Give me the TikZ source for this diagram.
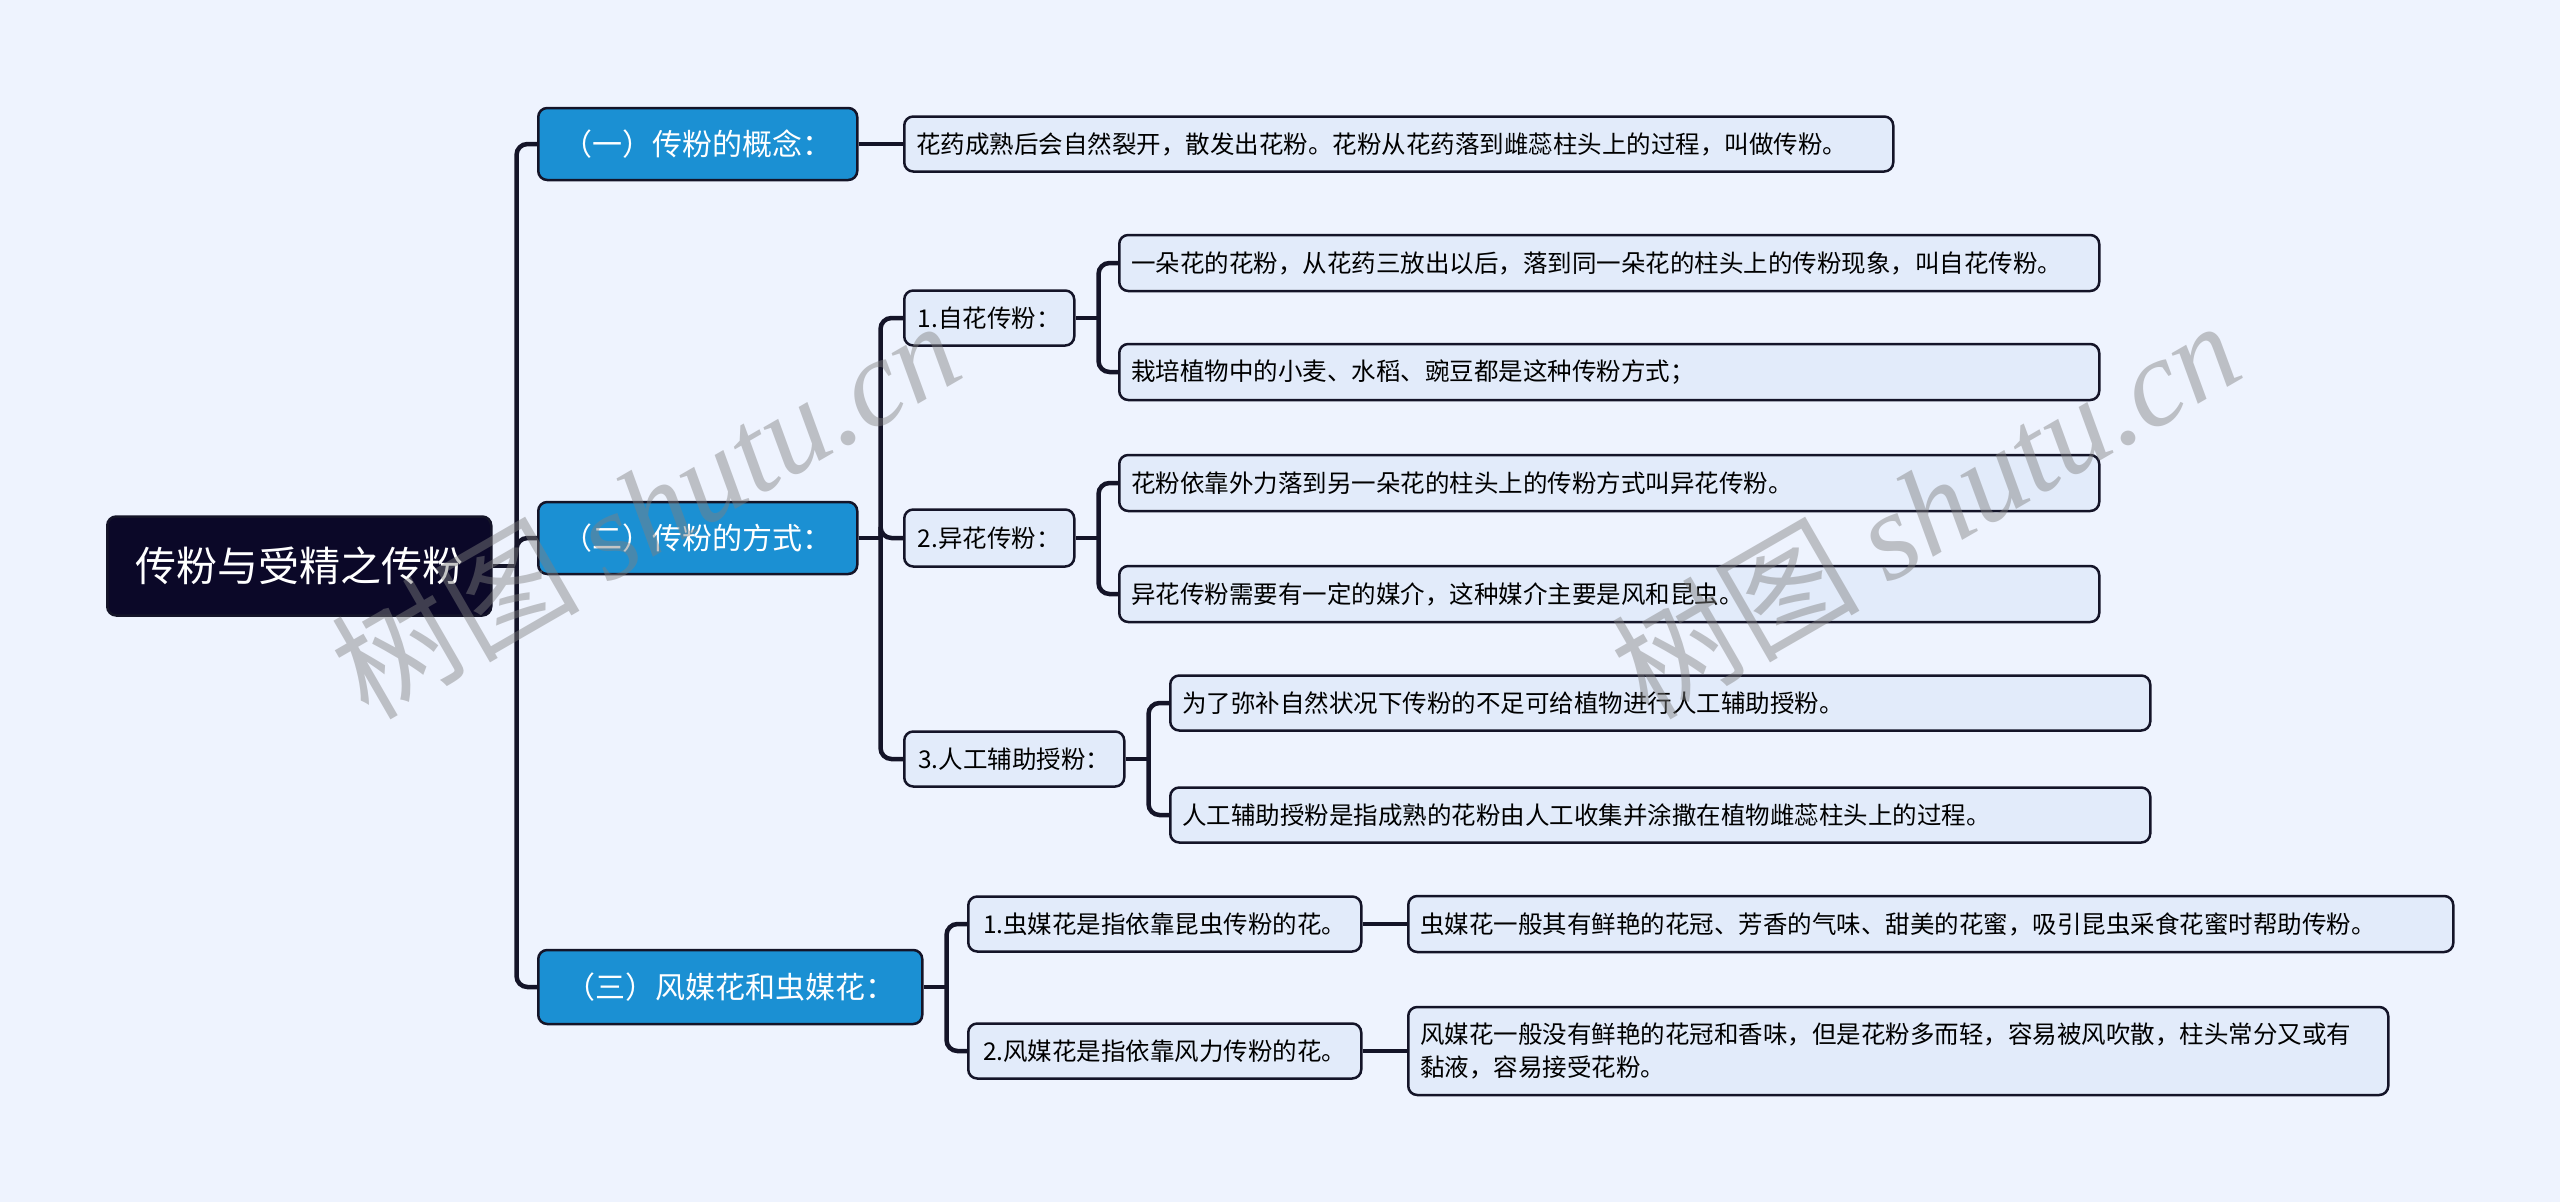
\documentclass[tikz,border=0pt]{standalone}
\usepackage{fontspec}
\newfontfamily\cjk{Noto Sans CJK SC}
\newfontfamily\wmserif{Liberation Serif}
\usetikzlibrary{calc}
\definecolor{bgc}{HTML}{EEF3FE}
\definecolor{rootc}{HTML}{0B0828}
\definecolor{bluec}{HTML}{1B90D3}
\definecolor{leafc}{HTML}{E2EBFA}
\definecolor{linec}{HTML}{141428}
\begin{document}
\begin{tikzpicture}[x=1pt,y=-1pt,
  base/.style={draw=linec, line width=2.5pt, rounded corners=9pt, anchor=west, inner sep=0pt},
  rootbox/.style={base, fill=rootc, text=white, minimum width=384pt, minimum height=99pt, font=\cjk\fontsize{41}{48}\selectfont},
  mainbox/.style={base, fill=bluec, text=white, minimum height=72pt, font=\cjk\fontsize{30}{36}\selectfont},
  subbox/.style={base, fill=leafc, text=black, minimum height=55pt, font=\cjk\fontsize{24.5}{33}\selectfont},
  leafbox/.style={base, fill=leafc, text=black, minimum height=55pt, inner xsep=12pt, align=left, text width=#1, font=\cjk\fontsize{24.5}{33}\selectfont},
  conn/.style={draw=linec, line width=4.5pt, rounded corners=11pt},
  wm/.style={rotate=30, text=gray, opacity=0.45, font=\cjk\fontsize{124}{130}\selectfont}
]
\fill[bgc] (0,0) rectangle (2560,1202);
\useasboundingbox (0,0) rectangle (2560,1202);

% root and main branches
\node[rootbox] (root) at (106,566) {传粉与受精之传粉};
\node[mainbox, minimum width=319pt] (p1) at (537,144) {（一）传粉的概念：};
\node[mainbox, minimum width=319pt] (p2) at (537,538) {（二）传粉的方式：};
\node[mainbox, minimum width=384pt, minimum height=74pt] (p3) at (537,987) {（三）风媒花和虫媒花：};

% level 2
\node[leafbox=965pt] (l1) at (903,144) {花药成熟后会自然裂开，散发出花粉。花粉从花药落到雌蕊柱头上的过程，叫做传粉。};
\node[subbox, minimum width=170pt] (c1) at (903,318) {1.自花传粉：};
\node[subbox, minimum width=170pt, minimum height=57pt] (c2) at (903,538) {2.异花传粉：};
\node[subbox, minimum width=220pt] (c3) at (903,759) {3.人工辅助授粉：};
\node[subbox, minimum width=393pt] (e1) at (967,924) {1.虫媒花是指依靠昆虫传粉的花。};
\node[subbox, minimum width=393pt] (e2) at (967,1051) {2.风媒花是指依靠风力传粉的花。};

% level 3
\node[leafbox=956pt, minimum height=56pt] (d11) at (1118,263) {一朵花的花粉，从花药三放出以后，落到同一朵花的柱头上的传粉现象，叫自花传粉。};
\node[leafbox=956pt, minimum height=56pt] (d12) at (1118,372) {栽培植物中的小麦、水稻、豌豆都是这种传粉方式；};
\node[leafbox=956pt, minimum height=56pt] (d21) at (1118,483) {花粉依靠外力落到另一朵花的柱头上的传粉方式叫异花传粉。};
\node[leafbox=956pt, minimum height=56pt] (d22) at (1118,594) {异花传粉需要有一定的媒介，这种媒介主要是风和昆虫。};
\node[leafbox=956pt] (d31) at (1169,703) {为了弥补自然状况下传粉的不足可给植物进行人工辅助授粉。};
\node[leafbox=956pt] (d32) at (1169,815) {人工辅助授粉是指成熟的花粉由人工收集并涂撒在植物雌蕊柱头上的过程。};
\node[leafbox=1021pt, minimum height=56pt] (f1) at (1407,924) {虫媒花一般其有鲜艳的花冠、芳香的气味、甜美的花蜜，吸引昆虫采食花蜜时帮助传粉。};
\node[leafbox=956pt, minimum height=88pt] (f2) at (1407,1051) {风媒花一般没有鲜艳的花冠和香味，但是花粉多而轻，容易被风吹散，柱头常分又或有\\黏液，容易接受花粉。};

% connectors
\coordinate (j0) at ($(root.east)+(24,0)$);
\draw[conn] (root.east) -- (j0);
\foreach \t in {p1,p2,p3} \draw[conn] (j0) |- (\t.west);
\draw[conn] (p1.east) -- (l1.west);

\coordinate (j2) at ($(p2.east)+(22,0)$);
\draw[conn] (p2.east) -- (j2);
\foreach \t in {c1,c2,c3} \draw[conn] (j2) |- (\t.west);

\coordinate (jc1) at ($(c1.east)+(23,0)$);
\draw[conn] (c1.east) -- (jc1);
\foreach \t in {d11,d12} \draw[conn] (jc1) |- (\t.west);
\coordinate (jc2) at ($(c2.east)+(23,0)$);
\draw[conn] (c2.east) -- (jc2);
\foreach \t in {d21,d22} \draw[conn] (jc2) |- (\t.west);
\coordinate (jc3) at ($(c3.east)+(23,0)$);
\draw[conn] (c3.east) -- (jc3);
\foreach \t in {d31,d32} \draw[conn] (jc3) |- (\t.west);

\coordinate (j3) at ($(p3.east)+(23,0)$);
\draw[conn] (p3.east) -- (j3);
\foreach \t in {e1,e2} \draw[conn] (j3) |- (\t.west);
\draw[conn] (e1.east) -- (f1.west);
\draw[conn] (e2.east) -- (f2.west);

% watermarks
\node[wm] (wm1) at (645,508) {树图 {\wmserif\itshape shutu.cn}};
\node[wm] (wm2) at (1925,508) {树图 {\wmserif\itshape shutu.cn}};
\end{tikzpicture}
\end{document}
